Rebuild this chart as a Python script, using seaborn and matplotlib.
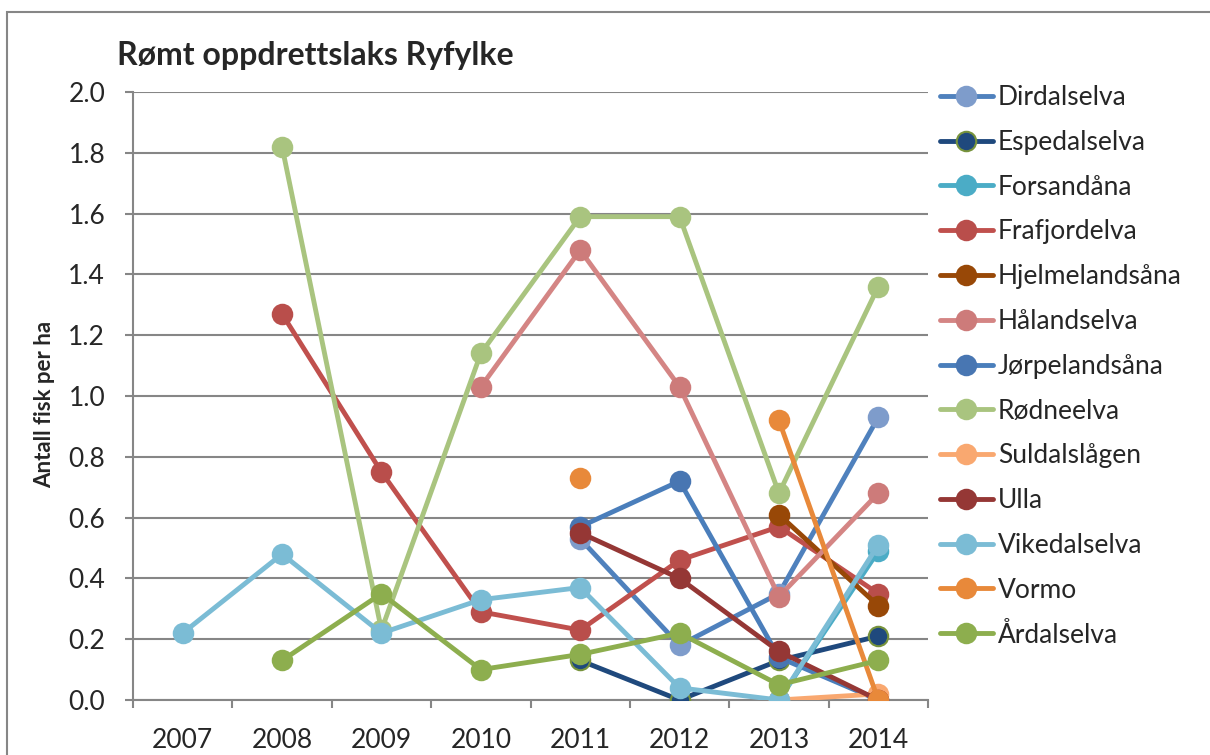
import numpy as np
import pandas as pd
import matplotlib
matplotlib.use("Agg")
import matplotlib.pyplot as plt
from matplotlib.lines import Line2D
from matplotlib.patches import Rectangle
import seaborn as sns

# Data (fish per hectare), NaN = no survey
years = [2007, 2008, 2009, 2010, 2011, 2012, 2013, 2014]
nan = np.nan

dirdalselva = [nan, nan, nan, nan, 0.53, 0.18, 0.35, 0.93]
espedalselva = [nan, nan, nan, nan, 0.13, 0.00, 0.13, 0.21]
forsandana = [nan, nan, nan, nan, nan, nan, 0.00, 0.49]
frafjordelva = [nan, 1.27, 0.75, 0.29, 0.23, 0.46, 0.57, 0.35]
hjelmelandsana = [nan, nan, nan, nan, nan, nan, 0.61, 0.31]
halandselva = [nan, nan, nan, 1.03, 1.48, 1.03, 0.34, 0.68]
jorpelandsana = [nan, nan, nan, nan, 0.57, 0.72, 0.14, 0.00]
rodneelva = [nan, 1.82, 0.23, 1.14, 1.59, 1.59, 0.68, 1.36]
suldalslagen = [nan, nan, nan, nan, nan, nan, 0.00, 0.02]
ulla = [nan, nan, nan, nan, 0.55, 0.40, 0.16, 0.00]
vikedalselva = [0.22, 0.48, 0.22, 0.33, 0.37, 0.04, 0.00, 0.51]
vormo = [nan, nan, nan, nan, 0.73, nan, 0.92, 0.00]
ardalselva = [nan, 0.13, 0.35, 0.10, 0.15, 0.22, 0.05, 0.13]

rivers = ["Dirdalselva", "Espedalselva", "Forsandåna", "Frafjordelva",
          "Hjelmelandsåna", "Hålandselva", "Jørpelandsåna", "Rødneelva",
          "Suldalslågen", "Ulla", "Vikedalselva", "Vormo", "Årdalselva"]
values = [dirdalselva, espedalselva, forsandana, frafjordelva, hjelmelandsana,
          halandselva, jorpelandsana, rodneelva, suldalslagen, ulla,
          vikedalselva, vormo, ardalselva]

# line colour, marker fill, marker edge
line_colors = ["#4F81BD", "#1F497D", "#4BACC6", "#C0504D", "#984807", "#D48584",
               "#4A7EBB", "#A9C47F", "#F9A870", "#953735", "#7BBCD5", "#E8893A", "#8DAE4E"]
marker_colors = ["#7E9CCB", "#1F497D", "#4BACC6", "#B94E4B", "#984807", "#CD7B7A",
                 "#4876B2", "#A9C47F", "#F9A870", "#953735", "#7BBCD5", "#E8893A", "#8DAE4E"]
edge_colors = ["#7E9CCB", "#77933C", "#4BACC6", "#B94E4B", "#984807", "#CD7B7A",
               "#4876B2", "#A9C47F", "#F9A870", "#953735", "#7BBCD5", "#E8893A", "#8DAE4E"]

# long format, with a segment id so gaps are not bridged
rows = []
for name, vals in zip(rivers, values):
    seg = 0
    for yr, v in zip(years, vals):
        if np.isnan(v):
            seg += 1
            continue
        rows.append({"river": name, "year": yr, "value": v, "segment": seg})
df = pd.DataFrame(rows)

sns.set_style("white")
plt.rcParams["font.family"] = ["Lato", "DejaVu Sans"]
grey = "#868686"

fig = plt.figure(figsize=(12.1, 7.55), dpi=100)
ax = fig.add_axes([133 / 1210, 55 / 755, (928 - 133) / 1210, (700 - 92) / 755])

for i, name in enumerate(rivers):
    sub = df[df["river"] == name]
    sns.lineplot(data=sub, x="year", y="value", units="segment", estimator=None,
                 color=line_colors[i], linewidth=3.5, marker="o", markersize=14,
                 markerfacecolor=marker_colors[i], markeredgecolor=edge_colors[i],
                 markeredgewidth=1.5, legend=False, ax=ax, zorder=3 + i * 0.01)

ax.set_xlim(2006.5, 2014.5)
ax.set_ylim(0, 2.0)
ax.set_xticks(years)
ax.set_xticklabels([str(y) for y in years])
ax.set_xticks(np.arange(2006.5, 2015, 1.0), minor=True)
ax.set_yticks(np.arange(0, 2.01, 0.2))
ax.set_yticklabels([f"{v:.1f}" for v in np.arange(0, 2.01, 0.2)])
ax.tick_params(axis="x", which="major", length=0, pad=20, labelsize=19)
ax.tick_params(axis="x", which="minor", length=6, width=1.5, color=grey, direction="out")
ax.tick_params(axis="y", length=6, width=1.5, color=grey, pad=14, labelsize=19, left=True)
ax.tick_params(axis="x", bottom=True, which="both")
ax.set_xlabel("")
ax.set_ylabel("")
ax.yaxis.grid(True, color=grey, linewidth=1.5)
ax.set_axisbelow(True)
for side in ["top", "right"]:
    ax.spines[side].set_visible(False)
for side in ["left", "bottom"]:
    ax.spines[side].set_color(grey)
    ax.spines[side].set_linewidth(1.5)
ax.spines["bottom"].set_zorder(2.5)

fig.text(117 / 1210, 1 - 55 / 755, "Rømt oppdrettslaks Ryfylke", fontsize=23,
         fontweight="bold", va="center", ha="left")
fig.text(45 / 1210, 1 - 404 / 755, "Antall fisk per ha", fontsize=16,
         fontweight="bold", rotation=90, va="center", ha="center")

handles = [Line2D([0], [0], color=line_colors[i], linewidth=3.5, marker="o", markersize=14,
                  markerfacecolor=marker_colors[i], markeredgecolor=edge_colors[i],
                  markeredgewidth=1.5) for i in range(len(rivers))]
fig.legend(handles, rivers, loc="upper left", bbox_to_anchor=(940 / 1210, 1 - 85 / 755),
           frameon=False, fontsize=19, handlelength=2.0, handletextpad=0.19,
           labelspacing=0.75, borderpad=0, borderaxespad=0)

fig.add_artist(Rectangle((7 / 1210, -0.1), 1.2, 1 - 12 / 755 + 0.1, transform=fig.transFigure,
                         fill=False, edgecolor=grey, linewidth=1.5))

fig.savefig("out.png", dpi=100)
